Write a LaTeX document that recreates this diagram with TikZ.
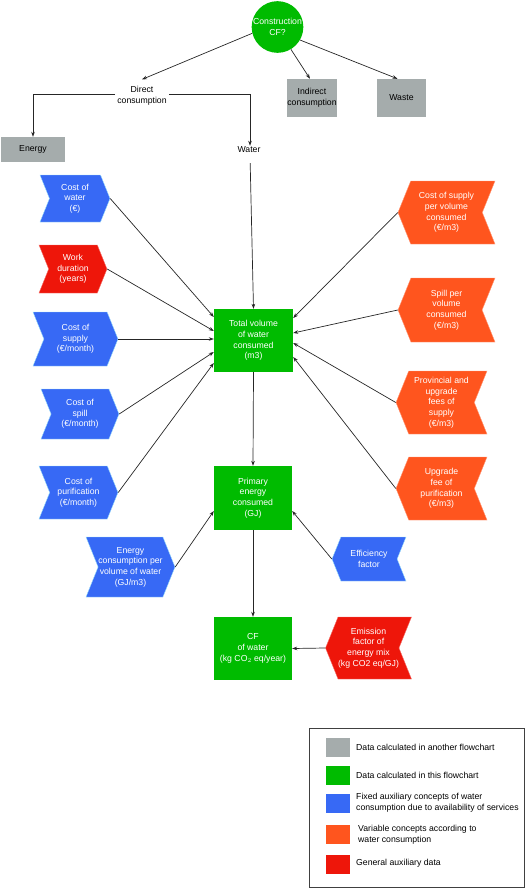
\documentclass[tikz,border=0pt]{standalone}
\usepackage{fontspec}
\setmainfont{Liberation Sans}
\usetikzlibrary{shapes.symbols,arrows.meta}
\definecolor{cgreen}{RGB}{0,187,0}
\definecolor{cblue}{RGB}{55,105,245}
\definecolor{corange}{RGB}{255,85,30}
\definecolor{cred}{RGB}{238,22,10}
\definecolor{cgray}{RGB}{165,172,172}
\begin{document}
\begin{tikzpicture}[x=1pt,y=-1pt,
  font=\fontsize{8.7}{10.7}\selectfont,
  greenbox/.style={rectangle, fill=cgreen, inner sep=0pt, align=center, text=white},
  graybox/.style={rectangle, fill=cgray, inner sep=0pt, align=center, text=black},
  chev/.style={signal, signal pointer angle=136, inner sep=0pt, align=center, text=white},
  chevR/.style={chev, signal to=east, signal from=west, fill=cblue, draw=cyan!40, line width=0.4pt},
  chevL/.style={chev, signal to=west, signal from=east, fill=corange, draw=corange!60!white, line width=0.4pt},
  conn/.style={draw=black!85, line width=0.7pt, -{Stealth[length=5pt,width=3.6pt]}},
  plain/.style={draw=black!85, line width=0.7pt},
  swatch/.style={rectangle, minimum width=24pt, minimum height=19pt, inner sep=0pt},
  legtext/.style={anchor=west, align=left, inner sep=0pt}]
\useasboundingbox (0,0) rectangle (526,888);

% top
\node[circle, fill=cgreen, minimum size=50pt, inner sep=0pt, align=center, text=white] (cf) at (277.5,27) {Construction\\CF?};
\node[align=center, inner sep=2pt] (direct) at (142,96) {Direct\\consumption};
\node[graybox, minimum width=64pt, minimum height=25pt] (energy) at (33,149.5) {Energy};
\node[inner sep=2pt] (water) at (249,150) {Water};
\node[graybox, minimum width=50pt, minimum height=38pt] (indirect) at (312,98) {Indirect\\consumption};
\node[graybox, minimum width=49pt, minimum height=38pt] (waste) at (401.5,98) {Waste};

% left chevrons
\node[chevR, minimum width=70pt, minimum height=47pt] (cwater) at (75,198.5) {Cost of\\water\\(€)};
\node[chevR, fill=cred, draw=cred!60!white, minimum width=68pt, minimum height=48pt] (work) at (73,269) {Work\\duration\\(years)};
\node[chevR, minimum width=85pt, minimum height=54pt] (csupply) at (75.5,339) {Cost of\\supply\\(€/month)};
\node[chevR, minimum width=78pt, minimum height=50pt] (cspill) at (80,414) {Cost of\\spill\\(€/month)};
\node[chevR, minimum width=79pt, minimum height=53pt] (cpurif) at (78.5,492.5) {Cost of\\purification\\(€/month)};

% right chevrons
\node[chevL, minimum width=97pt, minimum height=63pt] (osupply) at (446.5,212.5) {Cost of supply\\per volume\\consumed\\(€/m3)};
\node[chevL, minimum width=97pt, minimum height=64pt] (ospill) at (446.5,310) {Spill per\\volume\\consumed\\(€/m3)};
\node[chevL, minimum width=91pt, minimum height=63pt] (oprov) at (441.5,402.5) {Provincial and\\upgrade\\fees of\\supply\\(€/m3)};
\node[chevL, minimum width=91pt, minimum height=63pt] (oupg) at (441.5,488.5) {Upgrade\\fee of\\purification\\(€/m3)};

% green boxes
\node[greenbox, minimum width=79pt, minimum height=63pt] (total) at (253.5,340.5) {Total volume\\of water\\consumed\\(m3)};
\node[greenbox, minimum width=78pt, minimum height=64pt] (primary) at (253,498) {Primary\\energy\\consumed\\(GJ)};
\node[greenbox, minimum width=78pt, minimum height=63pt] (cfw) at (253,648.5) {CF\\of water\\(kg CO$_2$ eq/year)};

\node[chevR, minimum width=89pt, minimum height=60pt] (econs) at (130.5,567) {Energy\\consumption per\\volume of water\\(GJ/m3)};
\node[chevL, fill=cblue, draw=cyan!40, minimum width=74pt, minimum height=44pt] (eff) at (369,559) {Efficiency\\factor};
\node[chevL, fill=cred, draw=cred!60!white, minimum width=81pt, minimum height=62pt] (emis) at (368.5,648) {Emission\\factor of\\energy mix\\(kg CO2 eq/GJ)};

% connectors top
\draw[conn] (cf.194) -- ([yshift=5pt]direct.north);
\draw[conn] (cf.-59) -- ([xshift=-2pt]indirect.north);
\draw[conn] (cf.-30) -- ([xshift=-4pt]waste.north);
\draw[conn] ([yshift=2pt]direct.west) -| (energy.north);
\draw[conn] ([yshift=2pt]direct.east) -| ([yshift=-1pt,xshift=1pt]water.north);
\draw[conn, shorten <=8pt] ([xshift=1pt]water.south) -- (total.north);

% into total
\draw[conn] (cwater.east) -- ([yshift=23.5pt]total.west);
\draw[conn] (work.east) -- ([yshift=9.5pt]total.west);
\draw[conn] (csupply.east) -- ([yshift=1.5pt]total.west);
\draw[conn] (cspill.east) -- ([yshift=-11.5pt]total.west);
\draw[conn] (cpurif.east) -- ([yshift=-22.5pt]total.west);
\draw[conn] (osupply.west) -- ([yshift=22.5pt]total.east);
\draw[conn] (ospill.west) -- ([yshift=7.5pt]total.east);
\draw[conn] (oprov.west) -- ([yshift=-2.5pt]total.east);
\draw[conn] (oupg.west) -- ([yshift=-16.5pt]total.east);

% lower chain
\draw[conn] (total.south) -- (primary.north);
\draw[conn] (econs.east) -- ([yshift=-13pt]primary.west);
\draw[conn] (eff.west) -- ([yshift=-13pt]primary.east);
\draw[conn] (primary.south) -- (cfw.north);
\draw[conn] (emis.west) -- (cfw.east);

% legend
\node[draw=black!75, line width=0.7pt, minimum width=215pt, minimum height=159pt, inner sep=0pt] (legend) at (416.5,807.5) {};
\node[swatch, fill=cgray] (s1) at (338,747.5) {};
\node[swatch, fill=cgreen] (s2) at (338,775) {};
\node[swatch, fill=cblue] (s3) at (338,803) {};
\node[swatch, fill=corange] (s4) at (338,834.5) {};
\node[swatch, fill=cred] (s5) at (338,864) {};
\node[legtext] (t1) at (356,747) {Data calculated in another flowchart};
\node[legtext] (t2) at (356,775) {Data calculated in this flowchart};
\node[legtext] (t3) at (356,803) {Fixed auxiliary concepts of water\\consumption due to availability of services};
\node[legtext] (t4) at (358,834.5) {Variable concepts according to\\water consumption};
\node[legtext] (t5) at (356,863) {General auxiliary data};
\end{tikzpicture}
\end{document}
